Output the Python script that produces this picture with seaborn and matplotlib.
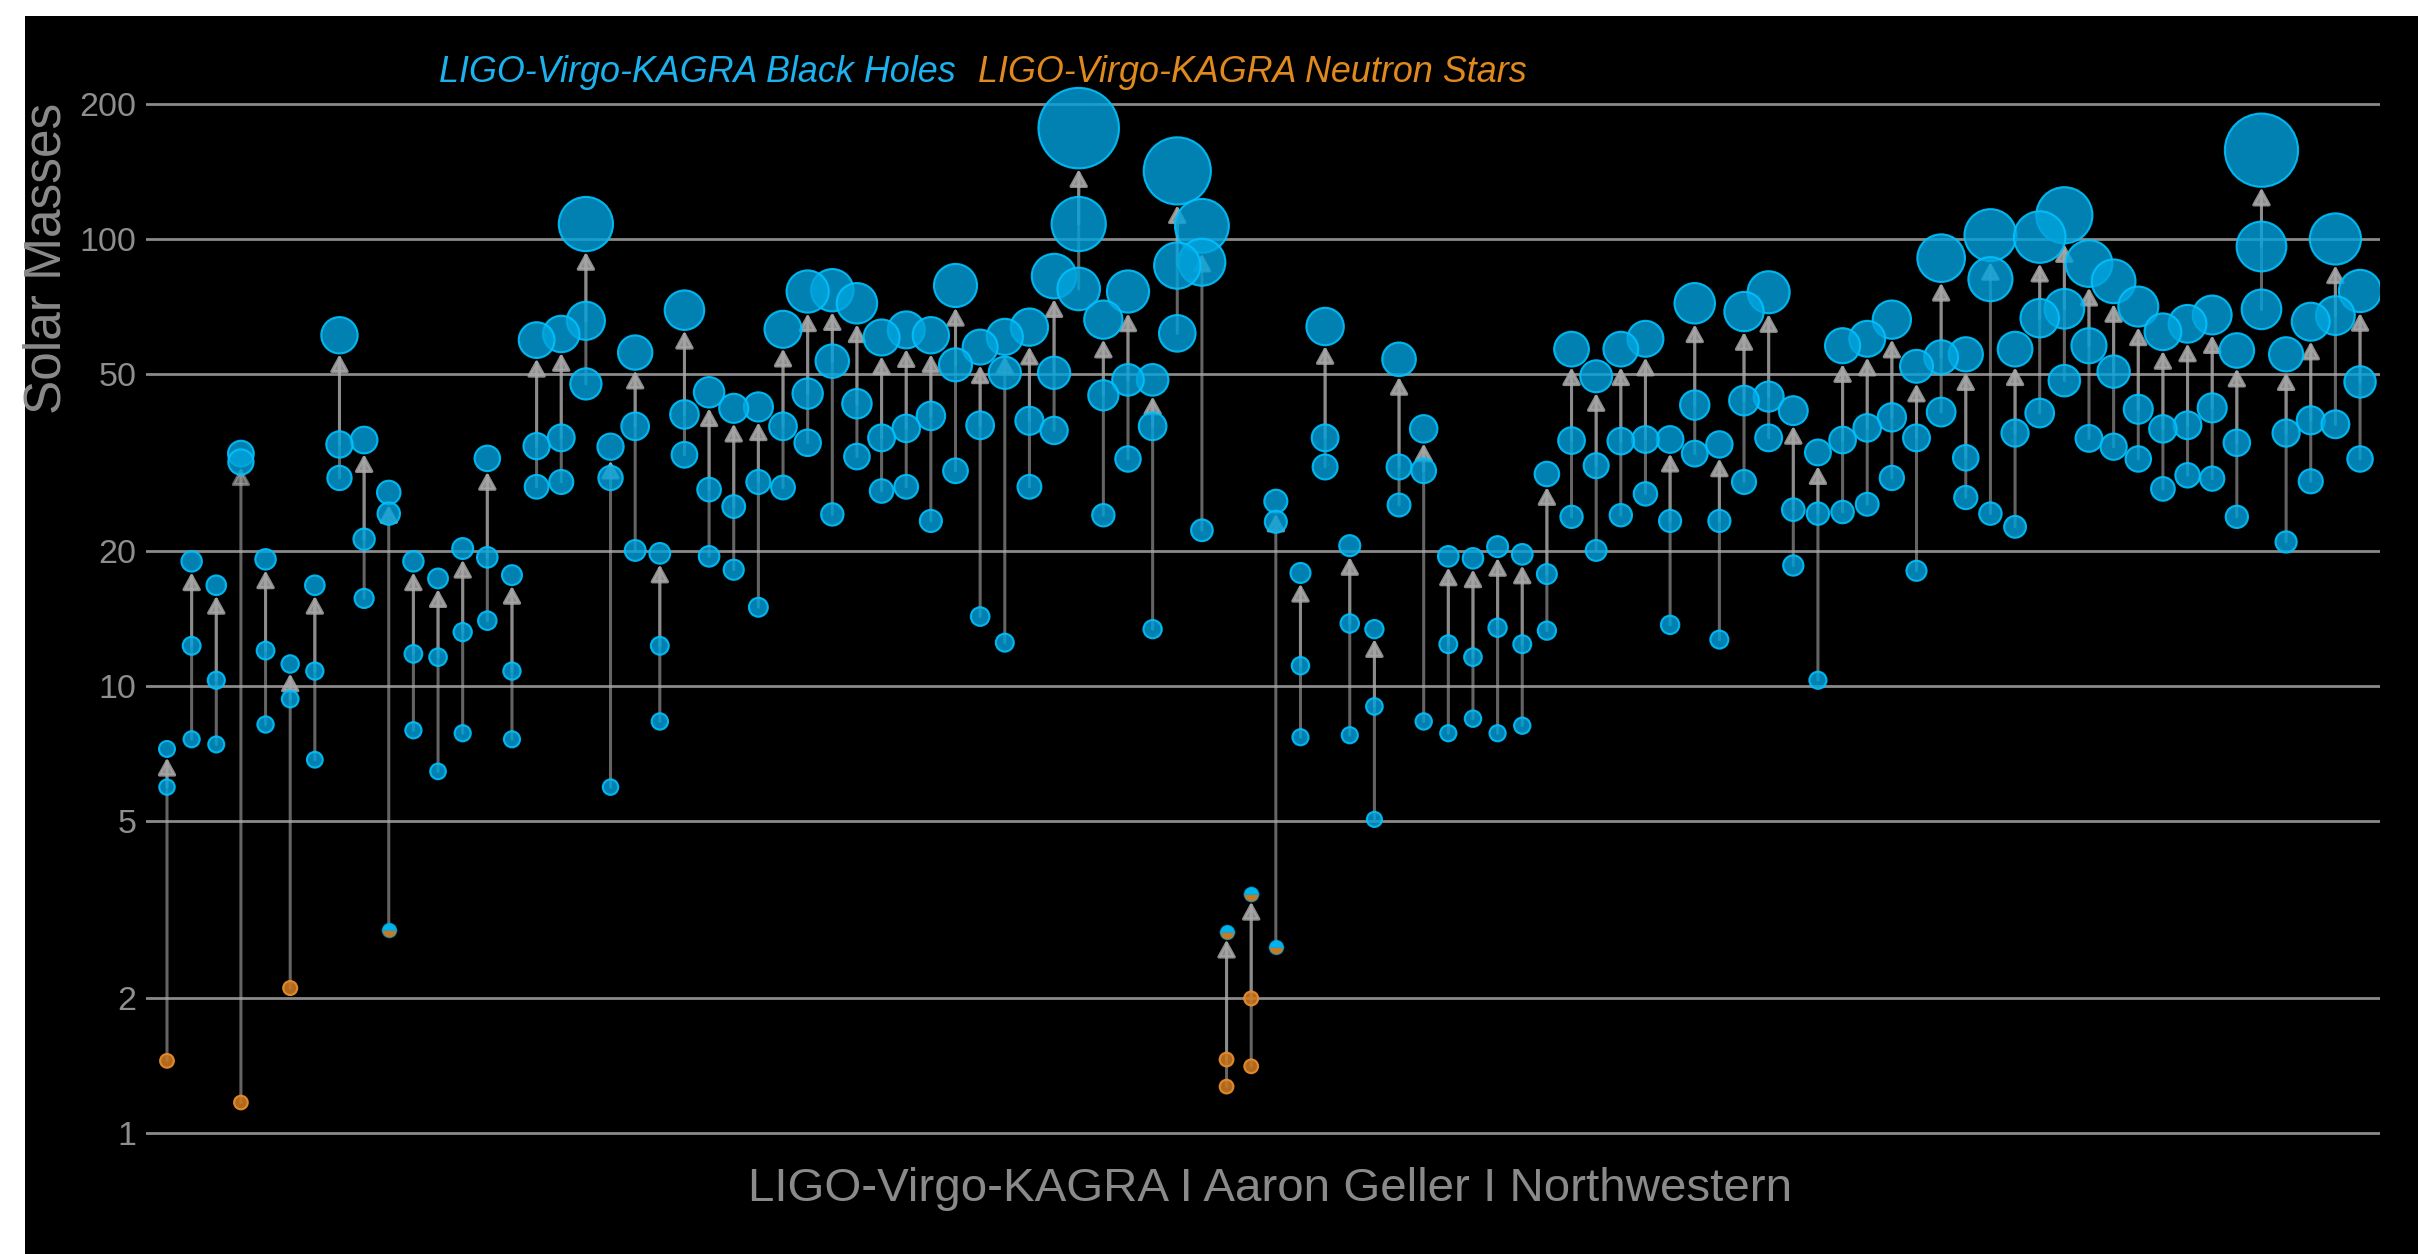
import numpy as np
import pandas as pd
import matplotlib
matplotlib.use("Agg")
import matplotlib.pyplot as plt
from matplotlib.patches import Rectangle
import seaborn as sns

# ---- merger masses (solar masses): primary, secondary, remnant ----
m1 = [5.94, 12.3, 10.3, 31.7, 12.0, 9.35, 10.8, 34.7, 21.3, 24.3,
      11.8, 11.6, 13.2, 19.4, 10.8, 34.4, 35.9, 65.6, 29.2, 38.1,
      12.3, 40.5, 27.5, 25.2, 28.6, 38.1, 45.1, 53.3, 42.8, 35.9,
      37.7, 40.2, 52.3, 38.3, 50.2, 39.2, 50.2, 108.0, 44.7, 48.4,
      38.1, 87.2, 88.7, 1.46, 2.0, 23.3, 11.1, 35.9, 13.8, 9.0,
      30.9, 30.3, 12.4, 11.6, 13.5, 12.4, 17.8, 35.4, 31.1, 35.3,
      35.6, 23.4, 42.5, 23.4, 43.5, 44.4, 24.8, 24.3, 35.5, 37.8,
      39.9, 35.9, 54.4, 32.4, 81.3, 36.8, 66.5, 69.8, 57.7, 50.5,
      41.6, 37.6, 38.3, 41.9, 35.0, 96.2, 36.8, 39.3, 67.4, 47.9]
m2 = [1.45, 7.6, 7.4, 1.17, 8.2, 2.11, 6.84, 29.2, 15.7, 2.85,
      7.96, 6.44, 7.84, 14.0, 7.6, 27.9, 28.6, 47.4, 5.94, 20.1,
      8.33, 32.9, 19.5, 18.2, 15.0, 27.8, 35.0, 24.2, 32.6, 27.3,
      27.9, 23.4, 30.3, 14.3, 12.5, 27.9, 37.3, 77.3, 24.1, 32.2,
      13.4, 61.5, 22.3, 1.27, 1.41, 2.61, 7.68, 30.9, 7.76, 5.03,
      25.4, 8.33, 7.84, 8.45, 7.84, 8.15, 13.3, 23.9, 20.1, 24.1,
      26.9, 13.7, 33.1, 12.7, 28.6, 35.9, 18.6, 10.3, 24.5, 25.5,
      29.2, 18.1, 41.0, 26.4, 24.3, 22.7, 40.8, 48.2, 35.8, 34.3,
      32.2, 27.6, 29.6, 29.1, 23.9, 69.6, 21.0, 28.7, 38.5, 32.2]
m_final = [7.23, 19.0, 16.8, 33.1, 19.2, 11.2, 16.8, 60.9, 35.5, 27.1,
           19.0, 17.4, 20.3, 32.3, 17.7, 59.4, 61.3, 108.0, 34.3, 55.7,
           19.8, 69.3, 45.4, 41.8, 42.1, 62.8, 76.3, 76.8, 71.8, 60.2,
           62.6, 60.9, 78.7, 57.3, 60.4, 63.5, 82.6, 177.0, 66.0, 76.3,
           48.4, 142.0, 107.0, 2.82, 3.43, 25.9, 17.9, 63.7, 20.6, 13.4,
           53.8, 37.6, 19.5, 19.3, 20.5, 19.7, 29.8, 56.7, 49.3, 56.7,
           59.8, 35.6, 71.8, 34.7, 68.8, 76.0, 41.3, 33.3, 57.7, 59.8,
           66.0, 51.9, 90.6, 55.2, 102.0, 56.7, 101.0, 113.0, 88.1, 80.4,
           70.6, 62.0, 64.6, 67.6, 56.3, 158.0, 55.2, 65.3, 100.0, 76.5]

# objects that are not plain black holes (event indices)
ns_primary = [43, 44]
ns_secondary = [0, 3, 5, 43, 44]
gap_secondary = [9, 45]
gap_remnant = [43, 44]

tick_values = [1, 2, 5, 10, 20, 50, 100, 200]
tick_labels = ["1", "2", "5", "10", "20", "50", "100", "200"]

# ---- figure geometry (pixels) ----
W, H, DPI = 2418, 1254, 100
PT = 72.0 / DPI  # points per pixel

sns.set_theme(style="dark")
plt.rcParams["font.family"] = ["Liberation Sans", "DejaVu Sans"]

fig = plt.figure(figsize=(W / DPI, H / DPI), dpi=DPI, facecolor="white")
fig.add_artist(Rectangle((25 / W, 0), 1 - 25 / W, 1 - 16 / H,
                         transform=fig.transFigure, facecolor="black",
                         edgecolor="none", zorder=-10))

ax = fig.add_axes([146 / W, 104 / H, (2380 - 146) / W, 1110 / H])
ax.set_facecolor("none")
ax.set_yscale("log")
ax.set_xlim(-0.852, 89.81)
ax.set_ylim(0.9162, 278.7)
for s in ax.spines.values():
    s.set_visible(False)

ax.set_yticks(tick_values)
ax.set_yticklabels(tick_labels)
ax.yaxis.set_minor_locator(matplotlib.ticker.NullLocator())
ax.set_xticks([])
ax.tick_params(axis="y", length=0, pad=7, labelsize=24.5, labelcolor="#8e8e8e")
ax.grid(axis="y", color="#8a8a8a", lw=2)
ax.grid(axis="x", visible=False)
ax.set_axisbelow(True)

PX_PER_DECADE = 447.0


def radius_px(m):
    return 7.6 + 0.19 * m


def diam_pt(m):
    return 2 * (radius_px(m) - 1.0) * PT


BH_FACE = (0.0, 0.64, 0.87, 0.8)
BH_EDGE = (0.0, 0.76, 1.0, 0.9)
NS_FACE = (0.80, 0.47, 0.13, 0.88)
NS_EDGE = (0.90, 0.55, 0.18, 0.95)

# ---- arrows from each component to its remnant ----
n = len(m_final)
for i in range(n):
    for m in (m1[i], m2[i]):
        dist = PX_PER_DECADE * np.log10(m_final[i] / m)
        if dist < radius_px(m_final[i]) + 2:
            continue
        ax.annotate("", xy=(i, m_final[i]), xytext=(i, m),
                    arrowprops=dict(arrowstyle="-|>,head_length=1.0,head_width=0.55",
                                    color=(0.66, 0.66, 0.66, 0.6), lw=2.2,
                                    shrinkA=0, shrinkB=radius_px(m_final[i]) * PT,
                                    mutation_scale=10),
                    zorder=2)

# ---- point table ----
rows = []
for i in range(n):
    rows.append((i, m1[i], "NS" if i in ns_primary else "BH"))
    if i in ns_secondary:
        k2 = "NS"
    elif i in gap_secondary:
        k2 = "GAP"
    else:
        k2 = "BH"
    rows.append((i, m2[i], k2))
    rows.append((i, m_final[i], "GAP" if i in gap_remnant else "BH"))
pts = pd.DataFrame(rows, columns=["event", "mass", "kind"])
pts["area"] = diam_pt(pts["mass"]) ** 2
# large circles first so the small ones stay on top
pts = pts.sort_values("mass", ascending=False).reset_index(drop=True)

bh = pts[pts["kind"] == "BH"].reset_index(drop=True)
ns = pts[pts["kind"] == "NS"].reset_index(drop=True)
gap = pts[pts["kind"] == "GAP"].reset_index(drop=True)

sns.scatterplot(data=bh, x="event", y="mass", s=bh["area"].to_numpy(),
                color=BH_FACE, edgecolor=BH_EDGE, linewidth=1.5,
                legend=False, ax=ax, zorder=3)
sns.scatterplot(data=ns, x="event", y="mass", s=ns["area"].to_numpy(),
                color=NS_FACE, edgecolor=NS_EDGE, linewidth=1.5,
                legend=False, ax=ax, zorder=3)
for _, r in gap.iterrows():
    ax.plot([r["event"]], [r["mass"]], marker="o", ls="none",
            ms=diam_pt(r["mass"]), fillstyle="top",
            markerfacecolor=(0.0, 0.70, 0.93), markerfacecoloralt=(0.80, 0.47, 0.13),
            markeredgecolor=(0.0, 0.70, 0.93, 0.6), mew=1.0, zorder=4)

ax.set_xlabel("")
ax.set_ylabel("")

# ---- texts ----
fig.text(47 / W, 1 - 258 / H, "Solar Masses", rotation=90, ha="center",
         va="center", fontsize=37, color="#8a8a8a")
fig.text(439 / W, 1 - 72 / H, "LIGO-Virgo-KAGRA Black Holes", ha="left",
         va="center", fontsize=25.8, style="italic", color="#1cb2ee")
fig.text(978 / W, 1 - 72 / H, "LIGO-Virgo-KAGRA Neutron Stars", ha="left",
         va="center", fontsize=25.8, style="italic", color="#e0891e")
fig.text(1270 / W, 1 - 1189 / H, "LIGO-Virgo-KAGRA I Aaron Geller I Northwestern",
         ha="center", va="center", fontsize=34.2, color="#8a8a8a")

fig.savefig("out.png", dpi=DPI, facecolor="white")
